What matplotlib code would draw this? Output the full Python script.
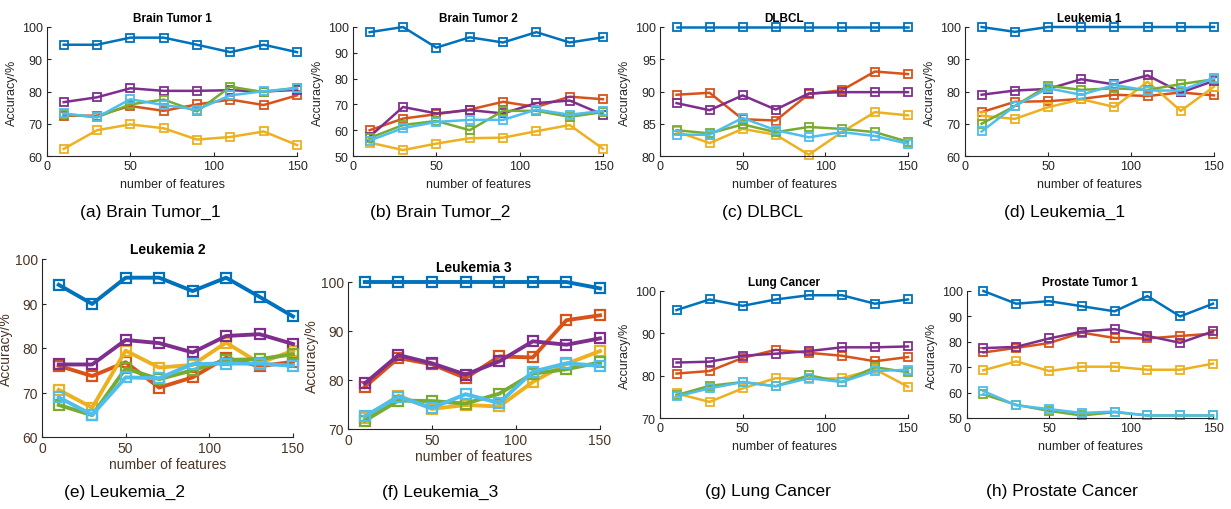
import matplotlib.pyplot as plt
import numpy as np

plt.rcParams['font.family'] = ['Liberation Sans', 'DejaVu Sans']

x = [10, 30, 50, 70, 90, 110, 130, 150]
colors = ["#0072BD", "#D95319", "#EDB120", "#7E2F8E", "#77AC30", "#4DBEEE"]

# series order: blue, red, yellow, purple, green, cyan
brain1 = [
    [94.5, 94.5, 96.7, 96.7, 94.5, 92.2, 94.5, 92.2],
    [72.5, 72.5, 75.5, 74.0, 76.0, 77.5, 75.8, 78.8],
    [62.2, 68.0, 69.8, 68.6, 65.1, 65.9, 67.6, 63.4],
    [76.7, 78.2, 81.0, 80.2, 80.2, 80.4, 80.0, 80.5],
    [73.0, 72.0, 76.0, 77.5, 73.8, 81.5, 79.8, 81.2],
    [73.2, 72.0, 77.6, 75.8, 74.4, 78.8, 80.1, 81.0],
]
brain2 = [
    [98.0, 100.0, 92.0, 96.0, 94.0, 98.0, 94.0, 96.0],
    [60.0, 64.5, 66.2, 68.0, 71.0, 69.0, 73.0, 72.0],
    [55.2, 52.3, 54.8, 56.9, 57.1, 59.6, 62.0, 52.8],
    [57.5, 69.0, 66.5, 67.8, 66.5, 70.5, 71.5, 66.0],
    [57.0, 62.0, 63.6, 60.0, 67.5, 67.5, 65.2, 67.0],
    [56.0, 60.8, 63.2, 64.0, 64.0, 68.0, 66.0, 67.5],
]
dlbcl = [
    [100, 100, 100, 100, 100, 100, 100, 100],
    [89.5, 89.8, 85.7, 85.5, 89.6, 90.2, 93.1, 92.7],
    [83.8, 82.0, 84.2, 83.3, 80.2, 83.7, 86.8, 86.3],
    [88.2, 87.1, 89.4, 87.2, 89.7, 89.9, 89.9, 89.9],
    [84.0, 83.5, 84.9, 83.7, 84.5, 84.2, 83.7, 82.2],
    [83.3, 83.3, 85.9, 84.0, 82.9, 83.7, 83.1, 81.9],
]
leuk1 = [
    [100, 98.5, 100, 100, 100, 100, 100, 100],
    [73.6, 76.8, 77.0, 77.7, 79.0, 78.6, 79.7, 78.8],
    [72.5, 71.5, 75.1, 77.6, 75.2, 83.0, 74.0, 81.5],
    [79.0, 80.3, 80.8, 83.8, 82.2, 85.0, 79.7, 83.3],
    [70.0, 75.5, 81.8, 80.5, 81.0, 80.5, 82.3, 83.8],
    [67.6, 75.5, 81.0, 79.0, 82.0, 80.3, 80.3, 84.2],
]
leuk2 = [
    [94.2, 89.9, 95.8, 95.8, 92.8, 95.8, 91.5, 87.1],
    [76.0, 73.7, 76.8, 71.1, 73.4, 77.8, 75.9, 76.9],
    [70.6, 66.6, 79.4, 75.6, 76.2, 81.2, 76.6, 79.4],
    [76.3, 76.3, 81.8, 81.1, 79.0, 82.7, 83.1, 80.9],
    [67.2, 64.9, 75.4, 73.0, 75.0, 77.3, 77.5, 78.6],
    [68.9, 65.0, 73.4, 73.2, 76.4, 76.5, 76.5, 76.0],
]
leuk3 = [
    [100, 100, 100, 100, 100, 100, 100, 98.7],
    [78.6, 84.5, 83.2, 80.4, 84.8, 84.6, 92.2, 93.2],
    [72.2, 76.8, 74.1, 74.9, 74.6, 79.6, 83.3, 85.9],
    [79.3, 85.1, 83.4, 81.1, 83.8, 87.9, 87.2, 88.5],
    [71.7, 75.8, 75.7, 75.2, 77.2, 81.3, 82.2, 83.6],
    [72.6, 76.6, 74.3, 77.1, 75.3, 81.7, 83.4, 82.9],
]
lung = [
    [95.5, 98.0, 96.5, 98.0, 99.0, 99.0, 97.0, 98.0],
    [80.5, 81.1, 84.2, 86.1, 85.4, 84.7, 83.4, 84.4],
    [75.8, 73.8, 77.0, 79.4, 79.2, 79.4, 81.5, 77.4],
    [83.1, 83.3, 84.7, 85.2, 85.8, 86.7, 86.7, 86.9],
    [75.4, 77.6, 78.5, 77.5, 80.1, 78.5, 82.0, 80.8],
    [75.1, 77.0, 78.5, 77.5, 79.4, 78.5, 81.1, 81.4],
]
prostate = [
    [100, 95.0, 96.0, 94.0, 92.0, 98.0, 90.0, 95.0],
    [75.8, 77.6, 79.5, 83.6, 81.5, 81.3, 82.3, 83.2],
    [68.8, 72.3, 68.5, 70.2, 70.2, 69.0, 69.0, 71.4],
    [77.5, 78.0, 81.3, 84.0, 85.0, 82.3, 79.6, 84.1],
    [59.3, 55.2, 52.8, 51.0, 52.3, 51.0, 51.0, 51.0],
    [60.6, 55.0, 53.5, 52.0, 52.5, 51.0, 51.0, 51.0],
]

titles = ["Brain Tumor 1", "Brain Tumor 2", "DLBCL", "Leukemia 1",
          "Leukemia 2", "Leukemia 3", "Lung Cancer", "Prostate Tumor 1"]
captions = ["(a) Brain Tumor_1", "(b) Brain Tumor_2", "(c) DLBCL", "(d) Leukemia_1",
            "(e) Leukemia_2", "(f) Leukemia_3", "(g) Lung Cancer", "(h) Prostate Cancer"]
datasets = [brain1, brain2, dlbcl, leuk1, leuk2, leuk3, lung, prostate]
ylims = [(60, 100), (50, 100), (80, 100), (60, 100), (60, 100), (70, 100), (70, 100), (50, 100)]
ysteps = [10, 10, 5, 10, 10, 10, 10, 10]
title_pads = [4, 4, 4, 4, 4, 8, 4, 4]

W, H = 1231, 510
# axes boxes in pixels: left, right, top, bottom
boxes = [(47, 297, 28, 157), (353, 603, 28, 157), (660, 908, 28, 157), (965, 1214, 28, 157),
         (42, 293, 260, 438), (348, 600, 283, 430), (660, 908, 292, 419), (967, 1213, 292, 419)]
cap_pos = [(150, 212), (440, 212), (762, 212), (1065, 212),
           (125, 492), (440, 492), (768, 492), (1062, 492)]

fig = plt.figure(figsize=(W / 100, H / 100), dpi=100)

for i in range(8):
    l, r, t, b = boxes[i]
    ax = fig.add_axes([l / W, 1 - b / H, (r - l) / W, (b - t) / H])
    big = i in (4, 5)
    lw = 2.8 if big else 1.8
    ms = 6.5 if big else 5.5
    for k in range(6):
        ax.plot(x, datasets[i][k], "-s", color=colors[k], lw=lw, ms=ms,
                mfc="none", mew=1.6 if big else 1.3, clip_on=False)
    ax.set_xlim(0, 150)
    ax.set_ylim(*ylims[i])
    ax.set_xticks([0, 50, 100, 150])
    ax.set_yticks(np.arange(ylims[i][0], ylims[i][1] + 1, ysteps[i]))
    ax.spines["top"].set_visible(False)
    ax.spines["right"].set_visible(False)
    for s in ("left", "bottom"):
        ax.spines[s].set_color("#262626")
        ax.spines[s].set_linewidth(0.8)
    tc = "#4a3526" if big else "#262626"
    fs = 10 if big else 9
    ax.tick_params(direction="in", length=3, labelsize=fs, colors="#262626",
                   labelcolor=tc, pad=3)
    ax.set_title(titles[i], fontsize=fs - 0.5 if not big else fs, fontweight="bold",
                 pad=title_pads[i], color="#000000")
    ax.set_xlabel("number of features", fontsize=fs, color=tc, labelpad=1 if big else 4)
    ax.set_ylabel("Accuracy/%", fontsize=fs, color=tc, labelpad=1 if big else 3)
    cx, cy = cap_pos[i]
    fig.text(cx / W, 1 - cy / H, captions[i], fontsize=12.5, ha="center", va="center")

plt.savefig("out.png", dpi=100)
